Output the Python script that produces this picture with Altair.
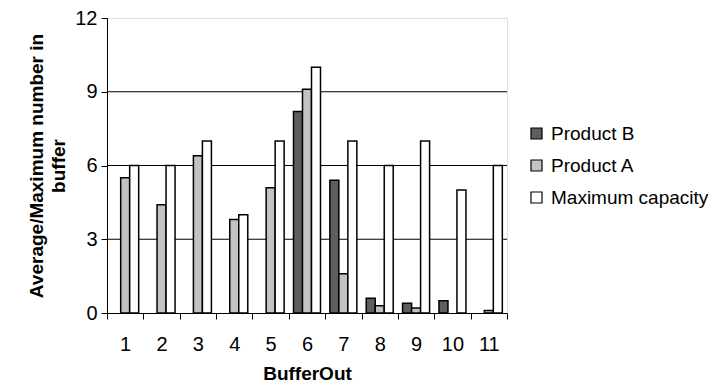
import altair as alt
import pandas as pd

categories = [str(i) for i in range(1, 12)]
product_b = [0, 0, 0, 0, 0, 8.2, 5.4, 0.6, 0.4, 0.5, 0]
product_a = [5.5, 4.4, 6.4, 3.8, 5.1, 9.1, 1.6, 0.3, 0.2, 0, 0.1]
max_cap = [6, 6, 7, 4, 7, 10, 7, 6, 7, 5, 6]
series = ["Product B", "Product A", "Maximum capacity"]
colors = ["#5e5e5e", "#c2c2c2", "#ffffff"]
gridlines = [3, 6, 9]

rows = []
for i, c in enumerate(categories):
    for s, vals in zip(series, [product_b, product_a, max_cap]):
        rows.append({"cat": c, "series": s, "value": vals[i]})
df = pd.DataFrame(rows)
grid_df = pd.DataFrame({"g": gridlines})

FONT = "Liberation Sans"

grid = alt.Chart(grid_df).mark_rule(color="black", strokeWidth=1).encode(
    y=alt.Y("g:Q", scale=alt.Scale(domain=[0, 12]))
)

bars = alt.Chart(df).transform_filter("datum.value > 0").mark_bar(
    stroke="black", strokeWidth=1.5
).encode(
    x=alt.X("cat:N", sort=categories,
            scale=alt.Scale(domain=categories, paddingInner=0, paddingOuter=0),
            axis=alt.Axis(title="BufferOut", labelAngle=0, tickBand="extent",
                          labelFontSize=20, titleFontSize=19, titleFontWeight="bold",
                          labelFont=FONT, titleFont=FONT, labelColor="black", titleColor="black",
                          domainColor="black", tickColor="black", tickSize=6,
                          labelPadding=15, titlePadding=10)),
    xOffset=alt.XOffset("series:N", sort=series,
                        scale=alt.Scale(domain=series, paddingInner=0, paddingOuter=0.52)),
    y=alt.Y("value:Q", scale=alt.Scale(domain=[0, 12]),
            axis=alt.Axis(values=[0, 3, 6, 9, 12], grid=False,
                          title=["Average/Maximum number in", "buffer"],
                          labelFontSize=20, titleFontSize=19, titleFontWeight="bold",
                          labelFont=FONT, titleFont=FONT, labelColor="black", titleColor="black",
                          domainColor="black", tickColor="black", tickSize=6,
                          labelPadding=4, titlePadding=6, titleLineHeight=22)),
    fill=alt.Fill("series:N", sort=series,
                  scale=alt.Scale(domain=series, range=colors),
                  legend=alt.Legend(title=None, orient="none", legendX=420, legendY=106,
                                    symbolType="square", symbolSize=121,
                                    symbolStrokeColor="black", symbolStrokeWidth=1.2,
                                    labelFontSize=19, labelFont=FONT, labelColor="black",
                                    labelLimit=300, rowPadding=12, labelOffset=5)),
)

chart = alt.layer(grid, bars).properties(
    width=400, height=295,
    autosize=alt.AutoSizeParams(type="none"),
    padding={"left": 107, "top": 18, "right": 213, "bottom": 74},
).configure_view(stroke=None).configure(background="white")

chart.save("out.html", embed_options={"renderer": "svg", "actions": False})
